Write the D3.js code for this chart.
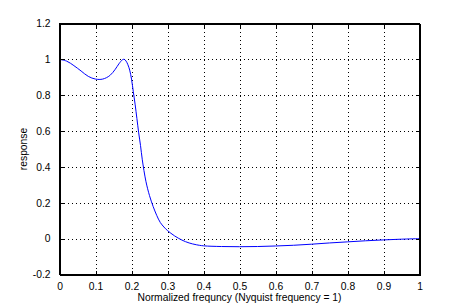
<!DOCTYPE html>
<html>
<head>
<meta charset="utf-8">
<script src="https://cdn.jsdelivr.net/npm/d3@7"></script>
<style>
  body { margin: 0; background: #fff; }
  svg text { font-family: "Liberation Sans", Arial, sans-serif; font-size: 10px; fill: #000; }
</style>
</head>
<body>
<svg id="chart" width="465" height="308"></svg>
<script>
// normalized frequency samples and filter response
const freq = [0, 0.02, 0.04, 0.06, 0.08, 0.10, 0.12, 0.14, 0.155, 0.165, 0.175, 0.18, 0.185,
  0.19, 0.195, 0.20, 0.205, 0.21, 0.215, 0.22, 0.225, 0.23, 0.24, 0.25, 0.26, 0.27, 0.28,
  0.29, 0.30, 0.32, 0.34, 0.36, 0.38, 0.40, 0.45, 0.50, 0.55, 0.60, 0.65, 0.70, 0.75,
  0.80, 0.85, 0.90, 0.95, 1.0];
const response = [1.0, 0.99, 0.965, 0.935, 0.905, 0.89, 0.89, 0.91, 0.945, 0.975, 0.998, 1.0, 0.99,
  0.97, 0.94, 0.89, 0.82, 0.75, 0.67, 0.59, 0.52, 0.44, 0.32, 0.24, 0.18, 0.13, 0.09,
  0.065, 0.045, 0.015, -0.008, -0.024, -0.034, -0.04, -0.044, -0.045, -0.044, -0.041, -0.037, -0.031, -0.024,
  -0.018, -0.012, -0.007, -0.003, 0.0];

const xTicks = [0, 0.1, 0.2, 0.3, 0.4, 0.5, 0.6, 0.7, 0.8, 0.9, 1];
const yTicks = [-0.2, 0, 0.2, 0.4, 0.6, 0.8, 1, 1.2];

const plotLeft = 59.5, plotRight = 419.5, plotTop = 23.5, plotBottom = 274.5;

const svg = d3.select("#chart");

const x = d3.scaleLinear().domain([0, 1]).range([plotLeft, plotRight]);
const y = d3.scaleLinear().domain([-0.2, 1.2]).range([plotBottom, plotTop]);

// dotted grid
const grid = svg.append("g")
  .attr("stroke", "#000")
  .attr("stroke-width", 1)
  .attr("stroke-dasharray", "1,3")
  .attr("shape-rendering", "crispEdges");

grid.selectAll(".vg")
  .data(xTicks.slice(1, -1))
  .join("line")
  .attr("x1", d => Math.round(x(d)) + 0.5)
  .attr("x2", d => Math.round(x(d)) + 0.5)
  .attr("y1", plotTop)
  .attr("y2", plotBottom);

grid.selectAll(".hg")
  .data(yTicks.slice(1, -1))
  .join("line")
  .attr("y1", d => Math.round(y(d)) + 0.5)
  .attr("y2", d => Math.round(y(d)) + 0.5)
  .attr("x1", plotLeft)
  .attr("x2", plotRight);

// curve
const line = d3.line()
  .x(d => x(d[0]))
  .y(d => y(d[1]))
  .curve(d3.curveCatmullRom);

svg.append("path")
  .datum(freq.map((f, i) => [f, response[i]]))
  .attr("fill", "none")
  .attr("stroke", "#0000ff")
  .attr("stroke-width", 1)
  .attr("d", line);

// axes, ticks inward on all four sides
const tickLen = 4;
const fmt = d => d3.format("~g")(d).replace("−", "-");

const xAxis = d3.axisBottom(x).tickValues(xTicks).tickSize(-tickLen).tickPadding(8).tickFormat(fmt);
const yAxis = d3.axisLeft(y).tickValues(yTicks).tickSize(-tickLen).tickPadding(9).tickFormat(fmt);

svg.append("g").attr("transform", `translate(0,${plotBottom})`).call(xAxis);
svg.append("g").attr("transform", `translate(${plotLeft},0)`).call(yAxis);
svg.append("g").attr("transform", `translate(0,${plotTop})`)
  .call(d3.axisTop(x).tickValues(xTicks).tickSize(-tickLen).tickFormat(""));
svg.append("g").attr("transform", `translate(${plotRight},0)`)
  .call(d3.axisRight(y).tickValues(yTicks).tickSize(-tickLen).tickFormat(""));

svg.selectAll(".domain").attr("stroke", "#000").attr("shape-rendering", "crispEdges");
svg.selectAll(".tick line").attr("stroke", "#000").attr("shape-rendering", "crispEdges");
svg.selectAll(".tick text").style("font-size", "10.3px").attr("fill", "#000");

svg.append("rect")
  .attr("x", plotLeft).attr("y", plotTop)
  .attr("width", plotRight - plotLeft).attr("height", plotBottom - plotTop)
  .attr("fill", "none").attr("stroke", "#000")
  .attr("shape-rendering", "crispEdges");

// labels
svg.append("text")
  .attr("x", (plotLeft + plotRight) / 2)
  .attr("y", 301)
  .attr("text-anchor", "middle")
  .style("font-size", "10.3px")
  .text("Normalized frequncy (Nyquist frequency = 1)");

svg.append("text")
  .attr("transform", `translate(27,${(plotTop + plotBottom) / 2}) rotate(-90)`)
  .attr("text-anchor", "middle")
  .style("font-size", "10.3px")
  .text("response");
</script>
</body>
</html>
